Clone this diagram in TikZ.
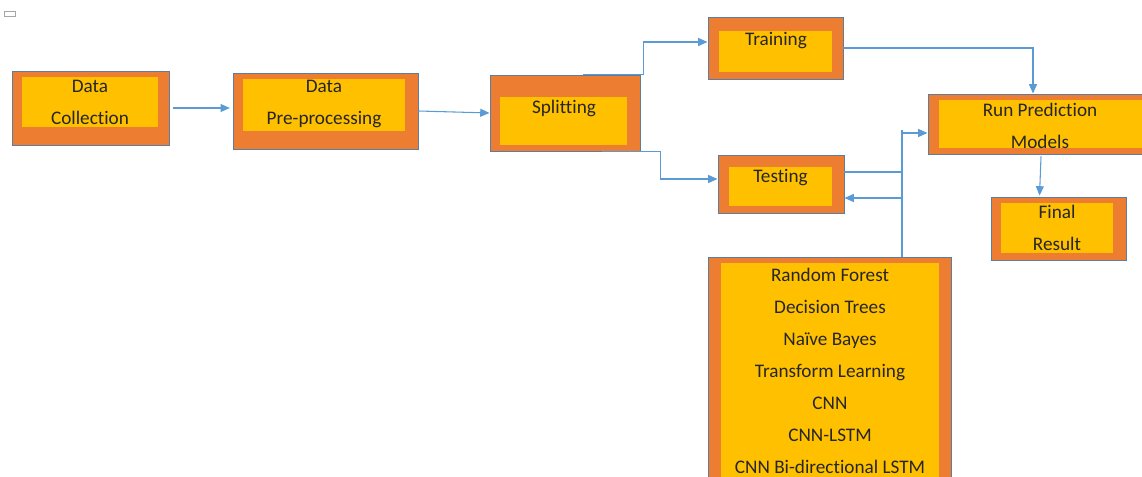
\documentclass[tikz,border=0pt]{standalone}
\usepackage{fontspec}
\setmainfont{Carlito}[Ligatures=NoCommon]
\usetikzlibrary{arrows.meta,positioning,calc,fit}
\definecolor{boxorange}{HTML}{ED7D31}
\definecolor{boxyellow}{HTML}{FFC000}
\definecolor{boxedge}{HTML}{5B7DA3}
\definecolor{flowblue}{HTML}{5B9BD5}

\begin{document}
\begin{tikzpicture}[
  x=0.75pt, y=-0.75pt,
  font=\fontsize{14.4}{24}\selectfont,
  boxout/.style={draw=boxedge, line width=0.7pt, fill=boxorange, inner sep=0pt},
  boxin/.style={fill=boxyellow, inner sep=0pt},
  lbl/.style={align=center, inner sep=0pt, text=black!85},
  link/.style={draw=flowblue, line width=0.8pt},
  flow/.style={link, -{Triangle[length=7pt,width=6pt]}}
]
\clip (0,0) rectangle (1142,477);
\draw[gray!70, fill=white] (4,11) rectangle (15,16);
% boxes
\node[boxout, fit={(12,71) (169,145)}] (collect) {};
\node[boxin, fit={(22,77) (158,127)}] (collect-in) {};
\node[lbl] (collect-t) at (90,102.5) {Data\\Collection};
\node[boxout, fit={(233,73) (418,149)}] (prep) {};
\node[boxin, fit={(243,79) (405,131)}] (prep-in) {};
\node[lbl] (prep-t) at (324,104) {Data\\Pre-processing};
\node[boxout, fit={(490,75) (640,151)}] (split) {};
\node[boxin, fit={(500,97) (627,145)}] (split-in) {};
\node[lbl] (split-t) at (564,108) {Splitting};
\node[boxout, fit={(708,17) (843,79)}] (train) {};
\node[boxin, fit={(719,31) (832,72)}] (train-in) {};
\node[lbl] (train-t) at (776,41) {Training};
\node[boxout, fit={(718,155) (844,213)}] (test) {};
\node[boxin, fit={(729,167) (832,206)}] (test-in) {};
\node[lbl] (test-t) at (780.5,178) {Testing};
\node[boxout, fit={(928,94) (1148,154)}] (run) {};
\node[boxin, fit={(939,100) (1148,148)}] (run-in) {};
\node[lbl] (run-t) at (1040,126) {Run Prediction\\Models};
\node[boxout, fit={(991,197) (1126,260)}] (final) {};
\node[boxin, fit={(1001,203) (1113,253)}] (final-in) {};
\node[lbl] (final-t) at (1057,228) {Final\\Result};
\node[boxout, fit={(708,257) (951,484)}] (models) {};
\node[boxin, fit={(721,263) (939,484)}] (models-in) {};
\node[lbl] (models-t) at (830,370.5) {Random Forest\\Decision Trees\\Na\"ive Bayes\\Transform Learning\\CNN\\CNN-LSTM\\CNN Bi-directional LSTM};
% junctions
\coordinate (jtop) at (902,130);
\coordinate (jrun) at (902,133);
\coordinate (jtin) at (902,172);
\coordinate (jtout) at (902,198);
% connectors
\draw[flow] ([xshift=3pt]collect.east) -- ([xshift=-2pt]prep.west |- collect.east);
\draw[flow] (prep.east) -- (split.west);
\draw[flow] ($(split.north east)+(-57,0)$) -- ++(60,0) |- ([yshift=4.5pt]train.west);
\draw[flow] ($(split.south east)+(-38,0)$) -- ++(58,0) |- ([yshift=3.75pt]test.west);
\draw[flow] (train.east) -| ([xshift=-3.75pt]run.north);
\draw[flow] ($(run.south)+(3,2)$) -- ($(final.north west)+(49,-1)$);
\draw[link] (models.north -| jtop) -- (jtop);
\draw[flow] (jrun) -- (run.west |- jrun);
\draw[link] (test.east |- jtin) -- (jtin);
\draw[flow] (jtout) -- (test.east |- jtout);
\end{tikzpicture}
\end{document}
